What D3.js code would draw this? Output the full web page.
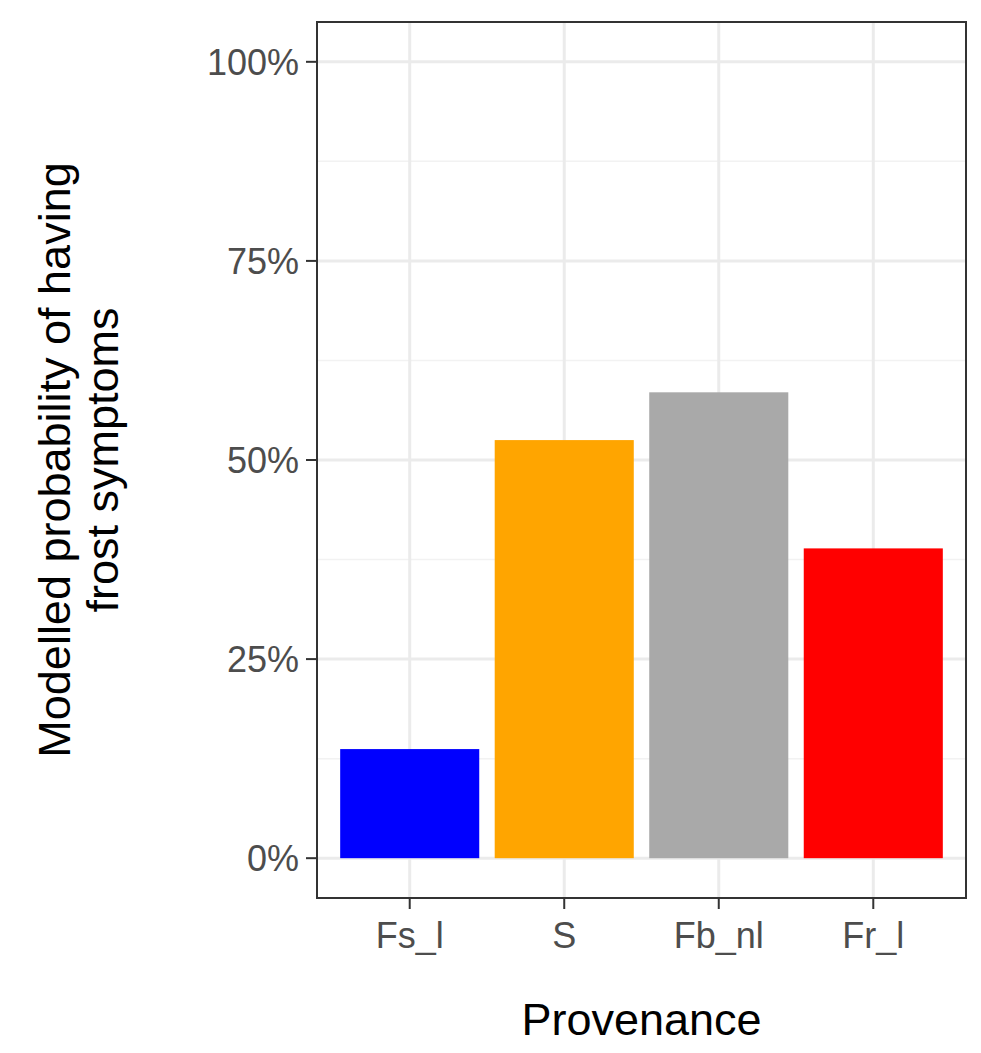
<!DOCTYPE html>
<html><head><meta charset="utf-8">
<script src="https://cdn.jsdelivr.net/npm/d3@7"></script>
<style>body{margin:0;background:#fff}</style></head>
<body><svg id="c" width="981" height="1053"></svg>
<script>
const categories = ["Fs_l","S","Fb_nl","Fr_l"];
const values = [0.137, 0.525, 0.585, 0.389];
const colors = ["#0000ff","#ffa500","#a9a9a9","#ff0000"];
const yTicks = [0,0.25,0.5,0.75,1];
const yTickLabels = ["0%","25%","50%","75%","100%"];

const svg = d3.select("#c");
const L=317,R=966,T=22,B=898;
const x = d3.scaleLinear().domain([0.4,4.6]).range([L,R]);
const y = d3.scaleLinear().domain([-0.05,1.05]).range([B,T]);
const g = svg.append("g");
// grid
[0.125,0.375,0.625,0.875].forEach(v=>g.append("line").attr("x1",L).attr("x2",R).attr("y1",y(v)).attr("y2",y(v)).attr("stroke","#f2f2f2").attr("stroke-width",1.5));
yTicks.forEach(v=>g.append("line").attr("x1",L).attr("x2",R).attr("y1",y(v)).attr("y2",y(v)).attr("stroke","#ebebeb").attr("stroke-width",3));
categories.forEach((c,i)=>g.append("line").attr("x1",x(i+1)).attr("x2",x(i+1)).attr("y1",T).attr("y2",B).attr("stroke","#ebebeb").attr("stroke-width",3));
// bars
g.selectAll("rect.bar").data(values).join("rect").attr("class","bar")
 .attr("x",(d,i)=>x(i+1-0.45)).attr("width",x(1.45)-x(1.0)+x(1)-x(0.55))
 .attr("y",d=>y(d)).attr("height",d=>y(0)-y(d)).attr("fill",(d,i)=>colors[i]);
// panel border
g.append("rect").attr("x",L).attr("y",T).attr("width",R-L).attr("height",B-T).attr("fill","none").attr("stroke","#333").attr("stroke-width",2);
// y ticks
yTicks.forEach((v,i)=>{
 g.append("line").attr("x1",L-11).attr("x2",L).attr("y1",y(v)).attr("y2",y(v)).attr("stroke","#333").attr("stroke-width",2);
 g.append("text").attr("x",L-18).attr("y",y(v)).attr("dy","0.36em").attr("text-anchor","end")
  .attr("font-family","Liberation Sans, Arial").attr("font-size",36).attr("fill","#4d4d4d").text(yTickLabels[i]);
});
categories.forEach((c,i)=>{
 g.append("line").attr("x1",x(i+1)).attr("x2",x(i+1)).attr("y1",B).attr("y2",B+11).attr("stroke","#333").attr("stroke-width",2);
 g.append("text").attr("x",x(i+1)).attr("y",B+50).attr("text-anchor","middle")
  .attr("font-family","Liberation Sans, Arial").attr("font-size",36).attr("fill","#4d4d4d").text(c);
});
svg.append("text").attr("x",(L+R)/2).attr("y",1035).attr("text-anchor","middle")
 .attr("font-family","Liberation Sans, Arial").attr("font-size",45).attr("fill","#000").text("Provenance");
const yt = svg.append("text").attr("transform",`translate(0,${(T+B)/2}) rotate(-90)`).attr("text-anchor","middle")
 .attr("font-family","Liberation Sans, Arial").attr("font-size",45).attr("fill","#000");
yt.append("tspan").attr("x",0).attr("y",70).text("Modelled probability of having");
yt.append("tspan").attr("x",0).attr("y",118).text("frost symptoms");
</script></body></html>
